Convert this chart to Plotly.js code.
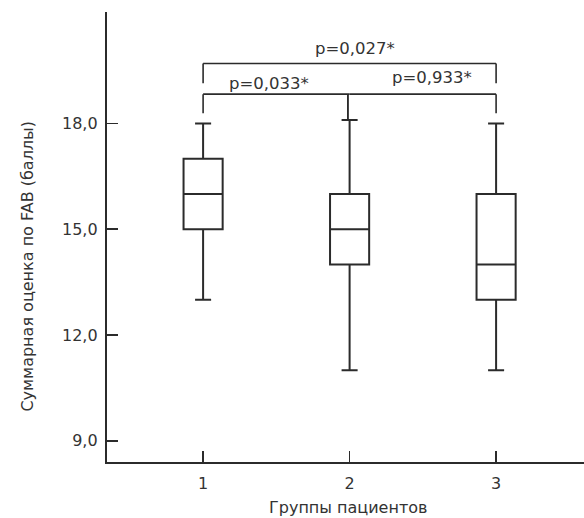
<!DOCTYPE html>
<html>
<head>
<meta charset="utf-8">
<script src="https://cdn.plot.ly/plotly-3.0.1.min.js"></script>
<style>
  html, body { margin: 0; padding: 0; background: #fff; }
  #chart { width: 584px; height: 518px; }
</style>
</head>
<body>
<div id="chart"></div>
<script>
// ---- data ----
const groups      = [1, 2, 3];
const groupLabels = ["1", "2", "3"];
const lowerFence  = [13.0, 11.0, 11.0];
const q1          = [15.0, 14.0, 13.0];
const median      = [16.0, 15.0, 14.0];
const q3          = [17.0, 16.0, 16.0];
const upperFence  = [18.0, 18.1, 18.0];
const yTickVals   = [9, 12, 15, 18];

// comparisons (pairs of groups) and their p-values
const compFrom    = [1, 2, 1];
const compTo      = [2, 3, 3];
const pLabels     = ["p=0,033*", "p=0,933*", "p=0,027*"];

const xTitle = "Группы пациентов";
const yTitle = "Суммарная оценка по FAB (баллы)";

// ---- styling ----
const INK = '#2b2b2b';
const FONT = '"DejaVu Sans", "Liberation Sans", Arial, sans-serif';

const trace = {
  type: 'box',
  x: groups,
  q1: q1, median: median, q3: q3,
  lowerfence: lowerFence, upperfence: upperFence,
  width: 0.267,
  whiskerwidth: 0.41,
  boxpoints: false,
  fillcolor: '#ffffff',
  line: { color: INK, width: 2 },
  hoverinfo: 'skip',
  showlegend: false
};

// bracket levels (data units) : lower row for neighbours, upper row for 1-3
const lowerBar = 18.83, lowerLeg = 18.29;
const upperBar = 19.70, upperLeg = 19.14;

const shapes = [];
const annotations = [];
const lineStyle = { color: INK, width: 1.6 };

compFrom.forEach((a, i) => {
  const b = compTo[i];
  const wide = (b - a) > 1;
  const bar = wide ? upperBar : lowerBar;
  const leg = wide ? upperLeg : lowerLeg;
  shapes.push({ type: 'line', xref: 'x', yref: 'y', x0: a, x1: b, y0: bar, y1: bar, line: lineStyle });
  shapes.push({ type: 'line', xref: 'x', yref: 'y', x0: a - (a === 2 ? 0.012 : 0), x1: a - (a === 2 ? 0.012 : 0), y0: bar, y1: (a === 2 ? upperFence[1] : leg), line: lineStyle });
  shapes.push({ type: 'line', xref: 'x', yref: 'y', x0: b - (b === 2 ? 0.012 : 0), x1: b - (b === 2 ? 0.012 : 0), y0: bar, y1: (b === 2 ? upperFence[1] : leg), line: lineStyle });
});

// p-value labels
const labelPos = [
  { x: 1.45, y: 19.14 },
  { x: 2.56, y: 19.31 },
  { x: 2.04, y: 20.13 }
];
pLabels.forEach((t, i) => {
  annotations.push({
    xref: 'x', yref: 'y', x: labelPos[i].x, y: labelPos[i].y,
    text: t, showarrow: false, xanchor: 'center', yanchor: 'middle',
    font: { family: FONT, size: 16.5, color: '#333' }
  });
});

// axis titles as annotations for exact placement
annotations.push({
  xref: 'paper', yref: 'paper', x: -0.166, y: 0.436,
  text: yTitle, textangle: -90, showarrow: false,
  xanchor: 'center', yanchor: 'middle',
  font: { family: FONT, size: 16, color: '#333' }
});
annotations.push({
  xref: 'paper', yref: 'paper', x: 0.505, y: -0.102,
  text: xTitle, showarrow: false,
  xanchor: 'center', yanchor: 'middle',
  font: { family: FONT, size: 16, color: '#333' }
});

const layout = {
  width: 584, height: 518,
  margin: { l: 107, r: 0, t: 12, b: 56 },
  paper_bgcolor: '#ffffff', plot_bgcolor: '#ffffff',
  separators: ', ',
  font: { family: FONT, size: 16, color: '#333' },
  xaxis: {
    range: [0.344, 3.60],
    tickvals: groups, ticktext: groupLabels,
    ticks: 'inside', ticklen: 11, tickwidth: 1.5, tickcolor: INK,
    showline: true, linecolor: INK, linewidth: 2.2,
    showgrid: false, zeroline: false,
    ticklabelstandoff: 6,
    tickfont: { family: FONT, size: 16, color: '#333' }
  },
  yaxis: {
    range: [8.40, 21.16],
    tickvals: yTickVals, tickformat: '.1f',
    ticks: 'inside', ticklen: 11, tickwidth: 1.5, tickcolor: INK,
    showline: true, linecolor: INK, linewidth: 2.2,
    showgrid: false, zeroline: false,
    ticklabelstandoff: 4,
    tickfont: { family: FONT, size: 16, color: '#333' }
  },
  shapes: shapes,
  annotations: annotations
};

Plotly.newPlot('chart', [trace], layout, { staticPlot: true, displayModeBar: false });
</script>
</body>
</html>
